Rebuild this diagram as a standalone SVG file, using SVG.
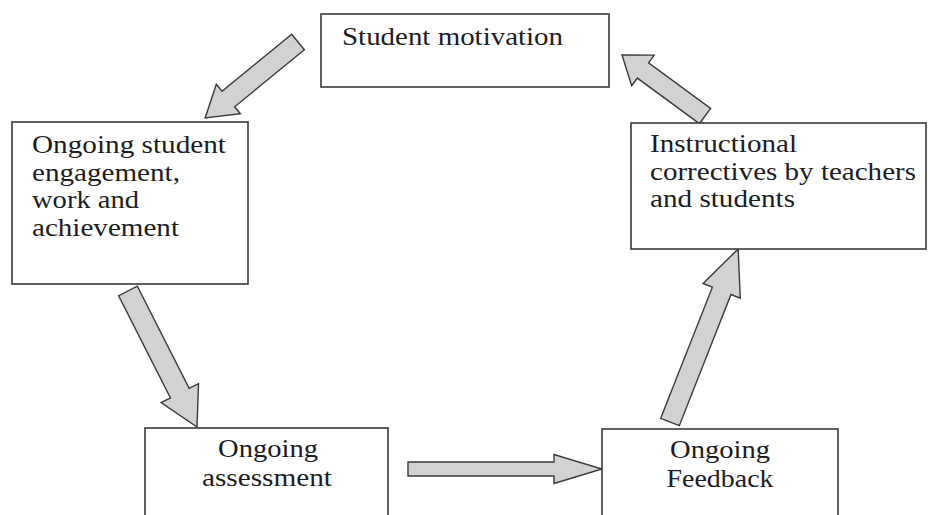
<svg xmlns="http://www.w3.org/2000/svg" width="928" height="515" viewBox="0 0 928 515">
  <defs>
    <style>
      .box { fill: #ffffff; stroke: #3a3a3a; stroke-width: 1.6; }
      .lbl { font-size: 24.5px; fill: #1c1c22; }
      .mid { text-anchor: middle; }
      .arrow { fill: #d1d2d4; stroke: #3a3a3a; stroke-width: 1.4; stroke-linejoin: miter; }
    </style>
  </defs>
  <rect width="928" height="515" fill="#ffffff"/>

  <g id="connectors">
    <!-- motivation -> engagement -->
    <polygon class="arrow" transform="translate(298,42) rotate(140.7)"
             points="0,-10 90,-10 90,-19 120,0 90,19 90,10 0,10"/>
    <!-- engagement -> assessment -->
    <polygon class="arrow" transform="translate(128,291) rotate(63.1)"
             points="0,-10.5 114.5,-10.5 114.5,-21 152.5,0 114.5,21 114.5,10.5 0,10.5"/>
    <!-- assessment -> feedback -->
    <polygon class="arrow" transform="translate(408,469)"
             points="0,-7 146,-7 146,-14.5 194,0 146,14.5 146,7 0,7"/>
    <!-- feedback -> correctives -->
    <polygon class="arrow" transform="translate(670,422) rotate(-68.5)"
             points="0,-10 141,-10 141,-20 186,0 141,20 141,10 0,10"/>
    <!-- correctives -> motivation -->
    <polygon class="arrow" transform="translate(705,116) rotate(-143.7)"
             points="0,-9.5 77,-9.5 77,-19 103,0 77,19 77,9.5 0,9.5"/>
  </g>

  <g id="student-motivation" font-family="Liberation Serif, Times New Roman, serif">
    <rect class="box" x="321" y="14" width="288" height="73"/>
    <text class="lbl" x="342" y="45" textLength="221" lengthAdjust="spacingAndGlyphs">Student motivation</text>
  </g>

  <g id="ongoing-engagement" font-family="Liberation Serif, Times New Roman, serif">
    <rect class="box" x="12" y="122" width="236" height="162"/>
    <text class="lbl" x="32" y="153" textLength="194" lengthAdjust="spacingAndGlyphs">Ongoing student</text>
    <text class="lbl" x="32" y="181" textLength="148" lengthAdjust="spacingAndGlyphs">engagement,</text>
    <text class="lbl" x="32" y="208" textLength="107" lengthAdjust="spacingAndGlyphs">work and</text>
    <text class="lbl" x="32" y="236" textLength="147" lengthAdjust="spacingAndGlyphs">achievement</text>
  </g>

  <g id="instructional-correctives" font-family="Liberation Serif, Times New Roman, serif">
    <rect class="box" x="631" y="123" width="295" height="126"/>
    <text class="lbl" x="650" y="152" textLength="147" lengthAdjust="spacingAndGlyphs">Instructional</text>
    <text class="lbl" x="650" y="180" textLength="266" lengthAdjust="spacingAndGlyphs">correctives by teachers</text>
    <text class="lbl" x="650" y="207" textLength="145" lengthAdjust="spacingAndGlyphs">and students</text>
  </g>

  <g id="ongoing-assessment" font-family="Liberation Serif, Times New Roman, serif">
    <rect class="box" x="145" y="428" width="243" height="100"/>
    <text class="lbl mid" x="268" y="457" textLength="100" lengthAdjust="spacingAndGlyphs">Ongoing</text>
    <text class="lbl mid" x="267" y="486" textLength="130" lengthAdjust="spacingAndGlyphs">assessment</text>
  </g>

  <g id="ongoing-feedback" font-family="Liberation Serif, Times New Roman, serif">
    <rect class="box" x="602" y="429" width="236" height="100"/>
    <text class="lbl mid" x="720" y="458" textLength="100" lengthAdjust="spacingAndGlyphs">Ongoing</text>
    <text class="lbl mid" x="720" y="487" textLength="107" lengthAdjust="spacingAndGlyphs">Feedback</text>
  </g>
</svg>
